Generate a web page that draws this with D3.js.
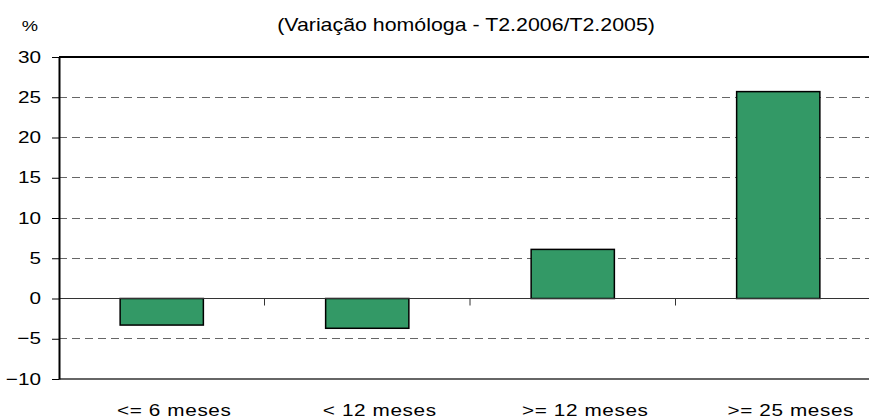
<!DOCTYPE html>
<html><head><meta charset="utf-8">
<script src="https://cdn.jsdelivr.net/npm/d3@7"></script>
<style>body{margin:0;background:#fff}svg{display:block}text{font-family:"Liberation Sans",Arial,sans-serif;fill:#000}</style>
</head><body>
<svg id="c" width="869" height="419"></svg>
<script>
const categories = ["<= 6 meses", "< 12 meses", ">= 12 meses", ">= 25 meses"];
const values = [-3.3, -3.7, 6.1, 25.7];
const yTicks = [-10, -5, 0, 5, 10, 15, 20, 25, 30];
const title = "(Variação homóloga - T2.2006/T2.2005)";
const unit = "%";

const SX = 1.22; // horizontal text stretch seen in reference
const svg = d3.select("#c");
const L = 59, R = 881, T = 57, B = 379;
const x = d3.scaleBand().domain(categories).range([L, R]).paddingInner(0).paddingOuter(0);
const y = d3.scaleLinear().domain([-10, 30]).range([B, T]);

function place(sel, px, py) {
  sel.attr("x", 0).attr("y", 0).attr("transform", `translate(${px},${py}) scale(${SX},1)`);
}

// gridlines
svg.append("g").selectAll("line").data(yTicks.filter(d => d !== 0 && d !== 30 && d !== -10))
  .join("line").attr("x1", L).attr("x2", R).attr("y1", d => y(d)).attr("y2", d => y(d))
  .attr("stroke", "#666").attr("stroke-width", 1).attr("stroke-dasharray", "8,5")
  .attr("shape-rendering", "crispEdges");

// top & bottom border
svg.append("line").attr("x1", L).attr("x2", R).attr("y1", y(30)).attr("y2", y(30)).attr("stroke", "#000").attr("stroke-width", 2);
svg.append("line").attr("x1", L).attr("x2", R).attr("y1", y(-10)).attr("y2", y(-10)).attr("stroke", "#333").attr("stroke-width", 1.5);

// bars
const bw = x.bandwidth() * 0.405;
svg.append("g").selectAll("rect").data(values).join("rect")
  .attr("x", (d, i) => x(categories[i]) + x.bandwidth() / 2 - bw / 2)
  .attr("width", bw)
  .attr("y", d => y(Math.max(0, d)))
  .attr("height", d => Math.abs(y(d) - y(0)))
  .attr("fill", "#339966").attr("stroke", "#000").attr("stroke-width", 1.5);

// zero line with category ticks
svg.append("line").attr("x1", L).attr("x2", R).attr("y1", y(0)).attr("y2", y(0)).attr("stroke", "#333").attr("stroke-width", 1);
svg.append("g").selectAll("line").data(categories.slice(1)).join("line")
  .attr("x1", d => x(d)).attr("x2", d => x(d)).attr("y1", y(0)).attr("y2", y(0) + 7)
  .attr("stroke", "#333").attr("stroke-width", 1);

// y axis
const ya = svg.append("g").attr("transform", `translate(${L},0)`)
  .call(d3.axisLeft(y).tickValues(yTicks).tickSize(7).tickSizeOuter(0).tickPadding(11));
ya.select(".domain").attr("stroke", "#000").attr("stroke-width", 2);
ya.selectAll(".tick line").attr("stroke", "#000");
ya.selectAll(".tick text").attr("font-size", 17).attr("font-family", "Liberation Sans, Arial, sans-serif").attr("fill", "#000")
  .attr("dy", null).attr("dominant-baseline", null)
  .each(function() { place(d3.select(this), -18, 5); });

// x labels
svg.append("g").selectAll("text").data(categories).join("text")
  .attr("text-anchor", "middle").attr("font-size", 17).attr("letter-spacing", 0.5)
  .text(d => d)
  .each(function(d) { place(d3.select(this), x(d) + x.bandwidth() / 2 + 12.5, 416); });

place(svg.append("text").attr("text-anchor", "middle").attr("font-size", 17.5).text(title), 466, 31);
place(svg.append("text").attr("text-anchor", "middle").attr("font-size", 15).text(unit), 30, 31);
</script>
</body></html>
